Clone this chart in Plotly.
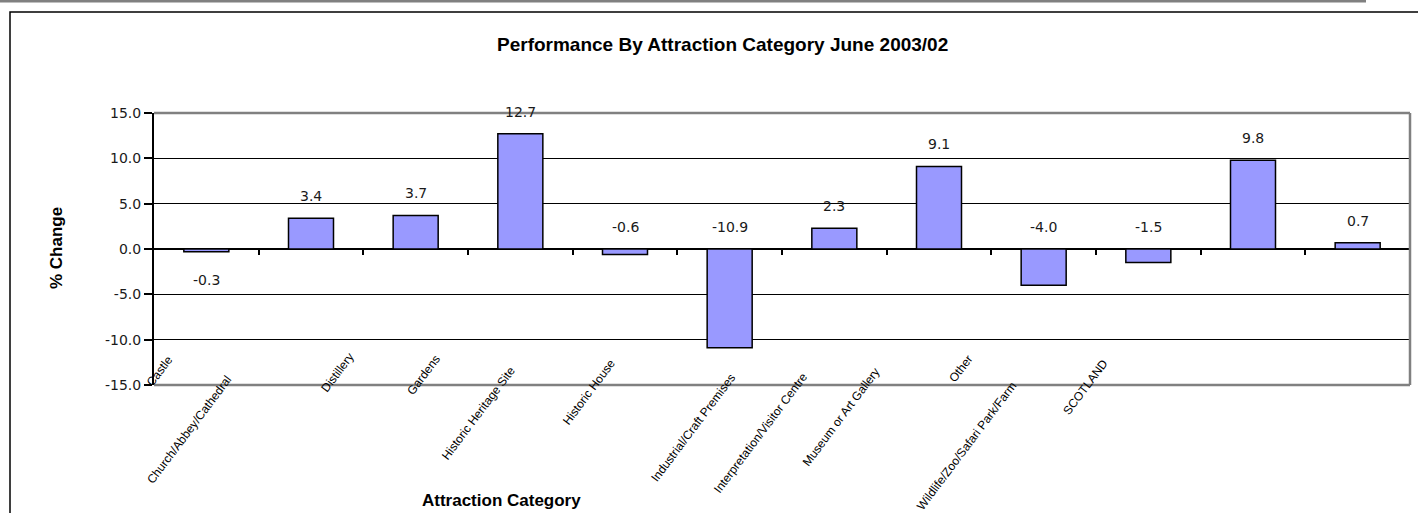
import plotly.graph_objects as go

# ---- data ----
categories = ["Castle", "Church/Abbey/Cathedral", "Distillery", "Gardens",
              "Historic Heritage Site", "Historic House", "Industrial/Craft Premises",
              "Interpretation/Visitor Centre", "Museum or Art Gallery", "Other",
              "Wildlife/Zoo/Safari Park/Farm", "SCOTLAND"]
pct_change = [-0.3, 3.4, 3.7, 12.7, -0.6, -10.9, 2.3, 9.1, -4.0, -1.5, 9.8, 0.7]
y_ticks = [-15.0, -10.0, -5.0, 0.0, 5.0, 10.0, 15.0]
title_text = "Performance By Attraction Category June 2003/02"
x_title = "Attraction Category"
y_title = "% Change"
labels_below = ["Castle"]

# ---- layout / style (page pixel geometry) ----
W, H = 1418, 513
L, R, T, B = 154, 8, 113, 128
PW, PH = W - L - R, H - T - B

def px(xp):
    return (xp - L) / PW

def py(yp):
    return (T + PH - yp) / PH

# anchor (top-right end) of each rotated category label, page pixels
label_anchor_x = [178, 237, 359, 446, 521, 621, 741, 813, 885, 978, 1022, 1114]
label_anchor_y = [350, 371, 348, 350, 361, 354, 369, 367, 362, 350, 376, 354]

xs = list(range(len(categories)))
num_font = dict(family="DejaVu Sans, Verdana, sans-serif", size=14, color="#1a1a1a")

fig = go.Figure()
fig.add_trace(go.Bar(
    x=xs, y=pct_change, width=0.43,
    marker=dict(color="#9999FF", line=dict(color="black", width=1.5)),
    hoverinfo="skip", showlegend=False,
))

ann = []
for i, (c, v) in enumerate(zip(categories, pct_change)):
    if c in labels_below:
        ann.append(dict(x=i, y=min(v, 0), xref="x", yref="y", text=f"{v:.1f}",
                        showarrow=False, yanchor="top", yshift=-18, font=num_font))
    else:
        ann.append(dict(x=i, y=max(v, 0), xref="x", yref="y", text=f"{v:.1f}",
                        showarrow=False, yanchor="bottom", yshift=12, font=num_font))

for c, ax_, ay_ in zip(categories, label_anchor_x, label_anchor_y):
    ann.append(dict(x=px(ax_), y=py(ay_), xref="paper", yref="paper", text=c,
                    showarrow=False, textangle=-53, xanchor="right", yanchor="top",
                    font=dict(family="Liberation Sans, Arial", size=12, color="black")))

ann.append(dict(x=px(722), y=py(44), xref="paper", yref="paper", text=f"<b>{title_text}</b>",
                showarrow=False, xanchor="center", yanchor="middle",
                font=dict(family="Liberation Sans, Arial", size=19, color="black")))
ann.append(dict(x=px(501), y=py(500), xref="paper", yref="paper", text=f"<b>{x_title}</b>",
                showarrow=False, xanchor="center", yanchor="middle",
                font=dict(family="Liberation Sans, Arial", size=17, color="black")))
ann.append(dict(x=px(56), y=py(248), xref="paper", yref="paper", text=f"<b>{y_title}</b>",
                showarrow=False, textangle=-90, xanchor="center", yanchor="middle",
                font=dict(family="Liberation Sans, Arial", size=17, color="black")))

shapes = [
    # outer chart frame
    dict(type="rect", xref="paper", yref="paper", x0=px(10), x1=px(1430), y0=py(530), y1=py(12),
         line=dict(color="black", width=1.5), layer="below"),
    # top gray band
    dict(type="line", xref="paper", yref="paper", x0=px(0), x1=px(1366), y0=py(1), y1=py(1),
         line=dict(color="#808080", width=3)),
    # plot area gray border (top, right, bottom)
    dict(type="line", xref="paper", yref="paper", x0=0, x1=1, y0=1, y1=1, line=dict(color="#808080", width=2.5)),
    dict(type="line", xref="paper", yref="paper", x0=1, x1=1, y0=0, y1=1, line=dict(color="#808080", width=2.5)),
    dict(type="line", xref="paper", yref="paper", x0=0, x1=1, y0=0, y1=0, line=dict(color="#808080", width=2.5)),
]

fig.update_layout(
    width=W, height=H,
    margin=dict(l=L, r=R, t=T, b=B),
    paper_bgcolor="white", plot_bgcolor="white",
    annotations=ann, shapes=shapes,
    xaxis=dict(range=[-0.5, len(categories) - 0.5], anchor="free", position=0.5,
               tickvals=[i + 0.5 for i in xs], ticks="outside", ticklen=5, tickwidth=1.5,
               tickcolor="black", showticklabels=False, showgrid=False, zeroline=False,
               showline=False, fixedrange=True),
    yaxis=dict(range=[-15, 15], tickvals=y_ticks, ticktext=[f"{t:.1f}" for t in y_ticks],
               ticks="outside", ticklen=8, tickwidth=1.5, tickcolor="black",
               showline=True, linecolor="black", linewidth=2,
               showgrid=True, gridcolor="black", gridwidth=1.2,
               zeroline=True, zerolinecolor="black", zerolinewidth=2,
               tickfont=num_font, fixedrange=True),
)

fig.write_html("out.html", config={"displayModeBar": False},
               post_script="document.body.style.margin='0';document.body.style.overflow='hidden';")
